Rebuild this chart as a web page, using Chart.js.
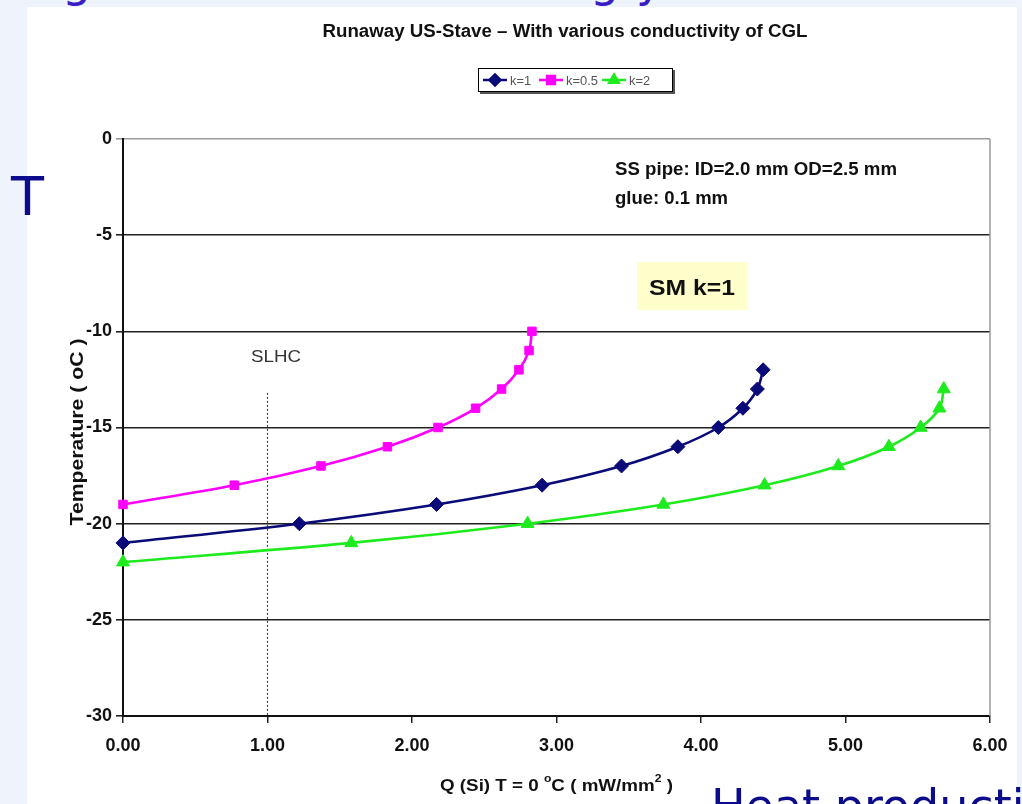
<!DOCTYPE html>
<html><head><meta charset="utf-8">
<script src="https://cdn.jsdelivr.net/npm/chart.js@4/dist/chart.umd.min.js"></script>
<style>
html,body{margin:0;padding:0;width:1022px;height:804px;overflow:hidden;background:#EFF3FC;}
#panel{position:absolute;left:27px;top:7px;width:990px;height:797px;background:#fff;}
#wrap{position:absolute;left:0;top:0;width:1022px;height:804px;}
.slide{position:absolute;color:#0B0B8C;font-family:"DejaVu Sans",sans-serif;white-space:nowrap;line-height:1;}
.topfrag{position:absolute;top:-43px;font-size:46px;color:#3A1EC4;font-family:"DejaVu Sans",sans-serif;line-height:1;}
</style></head><body>
<div class="topfrag" style="left:62px;">g</div>
<div class="topfrag" style="left:590px;">g</div>
<div class="topfrag" style="left:636px;">y</div>
<div id="panel"></div>
<div id="wrap"><canvas id="c" width="1022" height="804"></canvas></div>
<div class="slide" style="left:11px;top:170px;font-size:54px;">T</div>
<div class="slide" style="left:711px;top:783px;font-size:46px;">Heat production</div>
<script>
// ---- data ----
const seriesNames = ['k=1', 'k=0.5', 'k=2'];
const k1X  = [0, 1.22, 2.17, 2.90, 3.45, 3.84, 4.12, 4.29, 4.39, 4.43];
const k1Y  = [-21, -20, -19, -18, -17, -16, -15, -14, -13, -12];
const k05X = [0, 0.77, 1.37, 1.83, 2.18, 2.44, 2.62, 2.74, 2.81, 2.83];
const k05Y = [-19, -18, -17, -16, -15, -14, -13, -12, -11, -10];
const k2X  = [0, 1.58, 2.80, 3.74, 4.44, 4.95, 5.30, 5.52, 5.65, 5.68];
const k2Y  = [-22, -21, -20, -19, -18, -17, -16, -15, -14, -13];
const xTickValues = [0, 1, 2, 3, 4, 5, 6];
const yTickValues = [0, -5, -10, -15, -20, -25, -30];
const slhcX = [1.0, 1.0];
const slhcY = [-13.2, -30];

const pts = (xs, ys) => xs.map((x, i) => ({x: x, y: ys[i]}));
const FONT = '"Liberation Sans", Arial, sans-serif';

function fitText(ctx, str, x, y, font, color, targetW, align) {
  ctx.save();
  ctx.font = font;
  ctx.fillStyle = color;
  ctx.textBaseline = 'alphabetic';
  ctx.textAlign = 'left';
  const w = ctx.measureText(str).width;
  const s = targetW ? targetW / w : 1;
  let left = x;
  if (align === 'center') left = x - w * s / 2;
  ctx.translate(left, y);
  ctx.scale(s, 1);
  ctx.fillText(str, 0, 0);
  ctx.restore();
}

const overlay = {
  id: 'overlay',
  beforeDatasetsDraw(chart) {
    const ctx = chart.ctx, a = chart.chartArea;
    ctx.save();
    ctx.strokeStyle = '#9a9a9a';
    ctx.lineWidth = 1.5;
    ctx.beginPath();
    ctx.moveTo(a.right, a.top); ctx.lineTo(a.right, a.bottom);
    ctx.stroke();
    ctx.restore();
    ctx.save();
    ctx.fillStyle = '#FFFFCC';
    ctx.fillRect(637, 262, 110, 48);
    ctx.restore();
  },
  afterDraw(chart) {
    const ctx = chart.ctx;
    fitText(ctx, 'Runaway US-Stave \u2013 With various conductivity of CGL', 565, 37, 'bold 18px ' + FONT, '#111', 485, 'center');
    fitText(ctx, 'SS pipe: ID=2.0 mm OD=2.5 mm', 615, 175, 'bold 18px ' + FONT, '#111', 282);
    fitText(ctx, 'glue: 0.1 mm', 615, 204, 'bold 18px ' + FONT, '#111', 113);
    fitText(ctx, 'SM k=1', 649, 295, 'bold 22px ' + FONT, '#111', 86);
    fitText(ctx, 'SLHC', 251, 362, '17px ' + FONT, '#333', 50);
    ctx.save();
    ctx.translate(83, 432);
    ctx.rotate(-Math.PI / 2);
    fitText(ctx, 'Temperature ( oC )', 0, 0, 'bold 18px ' + FONT, '#111', 187, 'center');
    ctx.restore();
    ctx.save();
    const segs = [['Q (Si) T = 0 ', false], ['o', true], ['C ( mW/mm', false], ['2', true], [' )', false]];
    const fMain = 'bold 17px ' + FONT, fSup = 'bold 11px ' + FONT;
    let tw = 0;
    segs.forEach(s => { ctx.font = s[1] ? fSup : fMain; tw += ctx.measureText(s[0]).width; });
    const sc = 233 / tw;
    ctx.translate(440, 791);
    ctx.scale(sc, 1);
    ctx.fillStyle = '#111';
    let cx = 0;
    segs.forEach(s => {
      ctx.font = s[1] ? fSup : fMain;
      ctx.fillText(s[0], cx, s[1] ? -9 : 0);
      cx += ctx.measureText(s[0]).width;
    });
    ctx.restore();
    // legend
    ctx.save();
    const lx = 478, ly = 68, lw = 195, lh = 24;
    ctx.fillStyle = '#555';
    ctx.fillRect(lx + 2, ly + 2, lw, lh);
    ctx.fillStyle = '#fff';
    ctx.fillRect(lx, ly, lw, lh);
    ctx.strokeStyle = '#000';
    ctx.lineWidth = 1;
    ctx.strokeRect(lx + 0.5, ly + 0.5, lw - 1, lh - 1);
    const itemX = [483, 539, 602];
    const textW = [21, 32, 21];
    chart.data.datasets.slice(0, 3).forEach((ds, i) => {
      const x0 = itemX[i], yc = ly + lh / 2;
      ctx.strokeStyle = ds.borderColor;
      ctx.lineWidth = 2.5;
      ctx.beginPath(); ctx.moveTo(x0, yc); ctx.lineTo(x0 + 24, yc); ctx.stroke();
      ctx.fillStyle = ds.borderColor;
      Chart.helpers.drawPoint(ctx, {pointStyle: ds.pointStyle, radius: 5.5, borderWidth: 1, rotation: 0}, x0 + 12, yc);
      ctx.fill();
      fitText(ctx, ds.label, x0 + 27, yc + 5, '13px ' + FONT, '#555', textW[i]);
    });
    ctx.restore();
  }
};

const mk = (label, xs, ys, color, style, r) => ({
  label: label, data: pts(xs, ys), borderColor: color, backgroundColor: color,
  borderWidth: 2.6, pointStyle: style, pointRadius: r, pointHoverRadius: r,
  pointBorderWidth: 1, pointBorderColor: color, tension: 0.35, fill: false, clip: false
});

new Chart(document.getElementById('c'), {
  type: 'line',
  data: {
    datasets: [
      mk(seriesNames[0], k1X, k1Y, '#0A0A78', 'rectRot', 7),
      mk(seriesNames[1], k05X, k05Y, '#FF00FF', 'rect', 6),
      mk(seriesNames[2], k2X, k2Y, '#1EEB1E', 'triangle', 7.5),
      { label: 'SLHC', data: pts(slhcX, slhcY), borderColor: '#444', borderWidth: 1.2,
        borderDash: [2, 2], pointRadius: 0, tension: 0, fill: false }
    ]
  },
  options: {
    responsive: false,
    animation: false,
    layout: { padding: { left: 0, top: 139, right: 32, bottom: 0 } },
    plugins: { legend: { display: false }, title: { display: false }, tooltip: { enabled: false } },
    scales: {
      x: {
        type: 'linear', min: 0, max: 6,
        afterBuildTicks: s => { s.ticks = xTickValues.map(v => ({value: v})); },
        afterFit: s => { s.height = 88; },
        ticks: { color: '#111', font: { family: FONT, size: 18, weight: 'bold' }, padding: 12,
          callback: v => Number(v).toFixed(2) },
        grid: { drawOnChartArea: false, color: '#222', lineWidth: 1.5, tickLength: 7 },
        border: { display: true, color: '#111', width: 2 }
      },
      y: {
        type: 'linear', min: -30, max: 0,
        afterBuildTicks: s => { s.ticks = yTickValues.map(v => ({value: v})); },
        afterFit: s => { s.width = 123; },
        ticks: { color: '#111', font: { family: FONT, size: 18, weight: 'bold' }, padding: 4,
          callback: v => String(v) },
        grid: { color: c => (c.tick && c.tick.value === 0) ? '#9a9a9a' : '#222',
          lineWidth: 1.6, tickLength: 7 },
        border: { display: true, color: '#111', width: 2 }
      }
    }
  },
  plugins: [overlay]
});
</script>
</body></html>
